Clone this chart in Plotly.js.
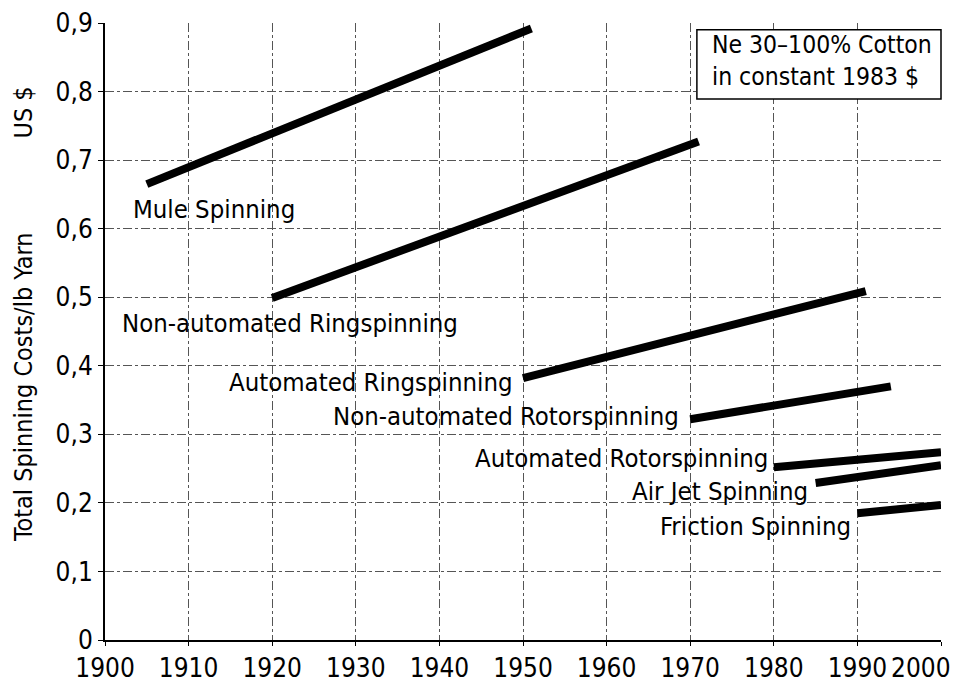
<!DOCTYPE html>
<html><head><meta charset="utf-8">
<script src="https://cdn.plot.ly/plotly-3.0.1.min.js"></script>
<style>body{margin:0;background:#fff}#c{width:961px;height:693px}</style>
</head><body><div id="c"></div>
<script>
const seriesNames = ["Mule Spinning","Non-automated Ringspinning","Automated Ringspinning","Non-automated Rotorspinning","Automated Rotorspinning","Air Jet Spinning","Friction Spinning"];
const startYears = [1905, 1920, 1950, 1970, 1980, 1985, 1990];
const endYears   = [1951, 1971, 1991, 1994, 2000, 2000, 2000];
const startCosts = [0.665, 0.499, 0.382, 0.322, 0.252, 0.229, 0.185];
const endCosts   = [0.892, 0.727, 0.509, 0.370, 0.274, 0.255, 0.197];
const xTicks = [1900,1910,1920,1930,1940,1950,1960,1970,1980,1990,2000];
const xTickText = ["1900","1910","1920","1930","1940","1950","1960","1970","1980","1990",""];
const lastTickText = "2000";
const yTicks = [0,0.1,0.2,0.3,0.4,0.5,0.6,0.7,0.8,0.9];
const yTickText = ["0","0,1","0,2","0,3","0,4","0,5","0,6","0,7","0,8","0,9"];
const noteLines = ["Ne 30–100% Cotton","in constant 1983 $"];

// label placement (x, y in data units, anchor)
const labelPlace = [
  [1903.1,0.628,'left'],[1901.8,0.462,'left'],[1949.0,0.376,'right'],
  [1968.9,0.327,'right'],[1979.5,0.266,'right'],[1984.3,0.218,'right'],[1989.5,0.167,'right']
];
const F = '"Liberation Sans Narrow", "DejaVu Sans Condensed", sans-serif';

const traces = seriesNames.map((n,i)=>({
  type:'scatter', mode:'lines', name:n,
  x:[startYears[i], endYears[i]], y:[startCosts[i], endCosts[i]],
  line:{color:'#000', width:8}, showlegend:false, hoverinfo:'skip'
}));

const annotations = seriesNames.map((n,i)=>({
  text:n, x:labelPlace[i][0], y:labelPlace[i][1], xref:'x', yref:'y',
  xanchor:labelPlace[i][2], yanchor:'middle', showarrow:false,
  font:{family:F, size:25.5, color:'#000'}
}));
annotations.push({
  text:noteLines.join('<br>'), xref:'paper', yref:'paper', x:0.7237, y:0.94,
  xanchor:'left', yanchor:'middle', align:'left', showarrow:false,
  font:{family:F, size:24.5, color:'#000'}
});
annotations.push({
  text:'Total Spinning Costs/lb Yarn', xref:'paper', yref:'paper', x:-0.098, y:0.41,
  xanchor:'center', yanchor:'middle', textangle:-90, showarrow:false,
  font:{family:F, size:25, color:'#000'}
});
annotations.push({
  text:'US $', xref:'paper', yref:'paper', x:-0.098, y:0.855,
  xanchor:'center', yanchor:'middle', textangle:-90, showarrow:false,
  font:{family:F, size:25, color:'#000'}
});
// last x tick label, nudged left so it stays inside the page
annotations.push({
  text:lastTickText, x:xTicks[xTicks.length-1], xref:'x', yref:'paper', y:0,
  xanchor:'right', yanchor:'top', xshift:12, yshift:-11, showarrow:false,
  font:{family:F, size:26, color:'#000'}
});

const layout = {
  width:961, height:693,
  margin:{l:105, r:20, t:23, b:53},
  paper_bgcolor:'#fff', plot_bgcolor:'#fff',
  xaxis:{range:[1900,2000], tickvals:xTicks, ticktext:xTickText,
    showgrid:true, gridcolor:'#555', gridwidth:1, griddash:'dashdot',
    showline:true, linecolor:'#000', linewidth:2, ticks:'outside', ticklen:4, tickcolor:'#000',
    zeroline:false, tickfont:{family:F, size:26, color:'#000'}},
  yaxis:{range:[0,0.9], tickvals:yTicks, ticktext:yTickText,
    showgrid:true, gridcolor:'#555', gridwidth:1, griddash:'dashdot',
    showline:true, linecolor:'#000', linewidth:2, ticks:'outside', ticklen:5, tickcolor:'#000',
    zeroline:false, tickfont:{family:F, size:26, color:'#000'}},
  shapes:[{type:'rect', xref:'paper', yref:'paper', x0:0.708, x1:1.0, y0:0.877, y1:0.989,
    line:{color:'#000', width:1.5}, fillcolor:'#fff', layer:'above'}],
  annotations
};
Plotly.newPlot('c', traces, layout, {displayModeBar:false, staticPlot:true});
</script></body></html>
